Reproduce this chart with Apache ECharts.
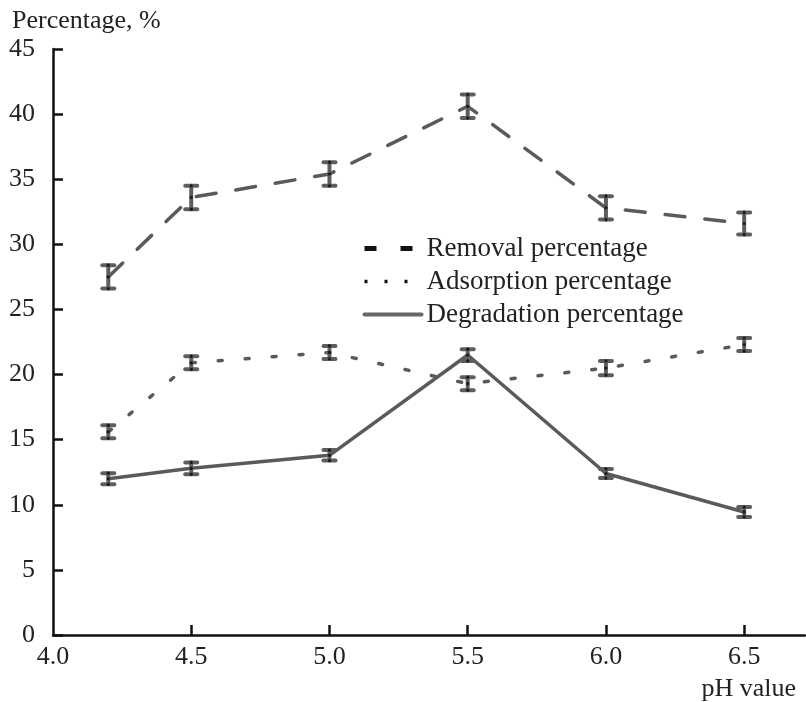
<!DOCTYPE html>
<html>
<head>
<meta charset="utf-8">
<script src="https://cdn.jsdelivr.net/npm/echarts@6/dist/echarts.min.js"></script>
<style>html,body{margin:0;padding:0;background:#fff}#c{width:806px;height:702px}</style>
</head>
<body>
<div id="c"></div>
<script>
var phValues = [4.2, 4.5, 5.0, 5.5, 6.0, 6.5];
var removal = [27.5, 33.6, 35.4, 40.6, 32.8, 31.6];
var removalErr = [0.9, 0.9, 0.9, 0.9, 0.9, 0.85];
var adsorption = [15.6, 20.9, 21.7, 19.3, 20.5, 22.3];
var adsorptionErr = [0.5, 0.5, 0.5, 0.5, 0.55, 0.5];
var degradation = [12.0, 12.8, 13.8, 21.5, 12.4, 9.45];
var degradationErr = [0.43, 0.45, 0.4, 0.45, 0.35, 0.38];
var xTickLabels = [4.0, 4.5, 5.0, 5.5, 6.0, 6.5];
var seriesNames = ['Removal percentage', 'Adsorption percentage', 'Degradation percentage'];

var FONT = '"Liberation Serif", "DejaVu Serif", serif';
var chart = echarts.init(document.getElementById('c'), null, {renderer: 'canvas'});

function pairs(vals) { return phValues.map(function (x, i) { return [x, vals[i]]; }); }
function errData(vals, errs) { return phValues.map(function (x, i) { return [x, vals[i] - errs[i], vals[i] + errs[i]]; }); }

function renderErr(params, api) {
  var x = api.value(0), lo = api.value(1), hi = api.value(2);
  var pt = api.coord([x, hi]), pb = api.coord([x, lo]);
  var pc = [pt[0], (pt[1] + pb[1]) / 2];
  var hw = 6;
  var st = {stroke: '#5e5e5e', lineWidth: 4, lineCap: 'round'};
  var dot = {fill: '#1a1a1a'};
  return {
    type: 'group',
    children: [
      {type: 'line', shape: {x1: pt[0], y1: pt[1], x2: pb[0], y2: pb[1]}, style: st},
      {type: 'line', shape: {x1: pt[0] - hw, y1: pt[1], x2: pt[0] + hw, y2: pt[1]}, style: st},
      {type: 'line', shape: {x1: pb[0] - hw, y1: pb[1], x2: pb[0] + hw, y2: pb[1]}, style: st},
      {type: 'circle', shape: {cx: pt[0], cy: pt[1], r: 1.6}, style: dot},
      {type: 'circle', shape: {cx: pb[0], cy: pb[1], r: 1.6}, style: dot},
      {type: 'circle', shape: {cx: pc[0], cy: pc[1], r: 1.6}, style: dot}
    ]
  };
}

var lineColor = '#5a5a5a';
var hiddenSym = {opacity: 0};
var option = {
  animation: false,
  backgroundColor: '#fff',
  grid: {left: 53, top: 49, right: 1, bottom: 67, outerBoundsMode: 'none', containLabel: false},
  xAxis: {
    type: 'value', min: 4.0, max: 6.72,
    axisLine: {lineStyle: {color: '#111', width: 2.5}},
    axisTick: {inside: true, length: 10, lineStyle: {color: '#111', width: 2.5},
      customValues: xTickLabels.slice(1)},
    axisLabel: {customValues: xTickLabels, color: '#222', fontFamily: FONT, fontSize: 26, margin: 9,
      formatter: function (v) { return v.toFixed(1); }},
    splitLine: {show: false}
  },
  yAxis: {
    type: 'value', min: 0, max: 45, interval: 5,
    axisLine: {show: true, lineStyle: {color: '#111', width: 2.5}},
    axisTick: {show: true, inside: true, length: 10, lineStyle: {color: '#111', width: 2.5}},
    axisLabel: {color: '#222', fontFamily: FONT, fontSize: 26, margin: 18},
    splitLine: {show: false}
  },
  legend: {
    orient: 'vertical', left: 357, top: 230,
    itemWidth: 57, itemHeight: 10, itemGap: 6,
    textStyle: {fontFamily: FONT, fontSize: 27, color: '#222'},
    data: [
      {name: seriesNames[0], itemStyle: hiddenSym, lineStyle: {color: '#111', width: 5, type: [12, 24], cap: 'butt'}},
      {name: seriesNames[1], itemStyle: hiddenSym, lineStyle: {color: '#111', width: 3.5, type: [3, 17], cap: 'butt'}},
      {name: seriesNames[2], itemStyle: hiddenSym, lineStyle: {color: '#666', width: 4, type: 'solid', cap: 'round'}}
    ]
  },
  graphic: [
    {type: 'text', left: 12, top: 8, style: {text: 'Percentage, %', font: '26px ' + FONT, fill: '#222'}},
    {type: 'text', right: 10, top: 676, style: {text: 'pH value', font: '26px ' + FONT, fill: '#222'}}
  ],
  series: [
    {name: seriesNames[0], type: 'line', data: pairs(removal), symbol: 'none', color: lineColor,
      lineStyle: {color: lineColor, width: 3.5, type: [20, 20], cap: 'round'}, z: 2},
    {name: seriesNames[1], type: 'line', data: pairs(adsorption), symbol: 'none', color: lineColor,
      lineStyle: {color: lineColor, width: 3.5, type: [4, 23], cap: 'round'}, z: 2},
    {name: seriesNames[2], type: 'line', data: pairs(degradation), symbol: 'none', color: lineColor,
      lineStyle: {color: lineColor, width: 3.5, type: 'solid', cap: 'round'}, z: 2},
    {type: 'custom', renderItem: renderErr, data: errData(removal, removalErr), z: 5, encode: {x: 0, y: [1, 2]}},
    {type: 'custom', renderItem: renderErr, data: errData(adsorption, adsorptionErr), z: 5, encode: {x: 0, y: [1, 2]}},
    {type: 'custom', renderItem: renderErr, data: errData(degradation, degradationErr), z: 5, encode: {x: 0, y: [1, 2]}}
  ]
};
chart.setOption(option);
</script>
</body>
</html>
